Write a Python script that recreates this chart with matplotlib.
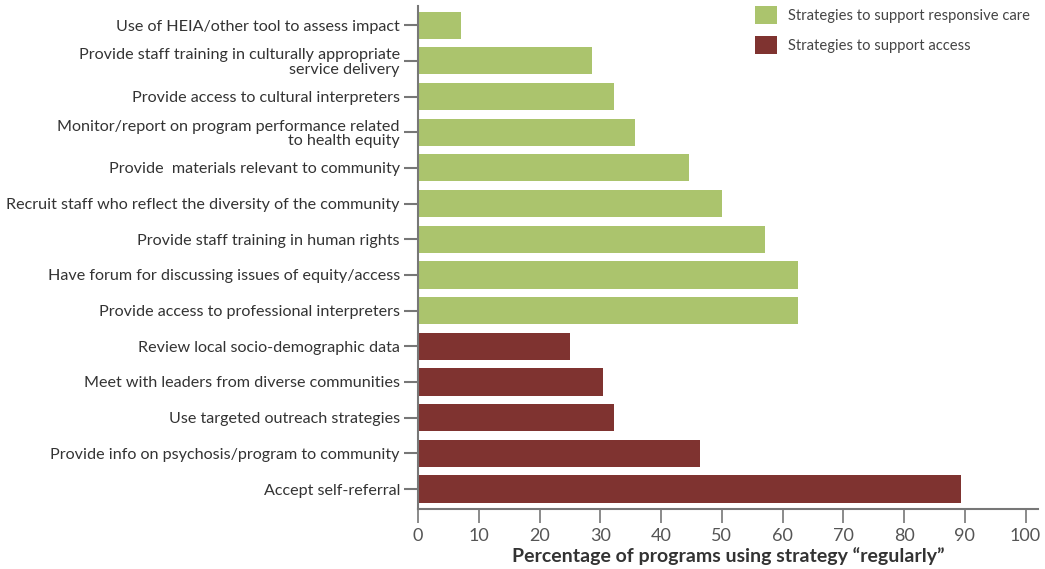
import matplotlib
matplotlib.use("Agg")
import matplotlib.pyplot as plt
from matplotlib.patches import Patch

plt.rcParams['font.family'] = ['Lato', 'DejaVu Sans']

# strategies, top to bottom
strategies = [
    "Use of HEIA/other tool to assess impact",
    "Provide staff training in culturally appropriate\nservice delivery",
    "Provide access to cultural interpreters",
    "Monitor/report on program performance related\nto health equity",
    "Provide  materials relevant to community",
    "Recruit staff who reflect the diversity of the community",
    "Provide staff training in human rights",
    "Have forum for discussing issues of equity/access",
    "Provide access to professional interpreters",
    "Review local socio-demographic data",
    "Meet with leaders from diverse communities",
    "Use targeted outreach strategies",
    "Provide info on psychosis/program to community",
    "Accept self-referral",
]
percent = [7.0, 28.7, 32.2, 35.8, 44.6, 50.0, 57.1, 62.6, 62.6,
           25.1, 30.5, 32.2, 46.4, 89.3]
group = ["care"] * 9 + ["access"] * 5

colors = {"care": "#abc46d", "access": "#7f3330"}
legend_labels = {"care": "Strategies to support responsive care",
                 "access": "Strategies to support access"}

fig = plt.figure(figsize=(10.45, 5.69), dpi=100)
ax = fig.add_axes([0.400, 0.1054, 0.593, 0.8836])

ypos = list(range(len(strategies)))
ax.barh(ypos, percent, height=0.76, color=[colors[g] for g in group])

ax.set_ylim(len(strategies) - 1 + 0.56, -0.53)
ax.set_xlim(0, 102)
ax.set_yticks(ypos)
ax.set_yticklabels(strategies, fontsize=11.6, color="#333333", linespacing=1.05)
ax.set_xticks(range(0, 101, 10))
ax.tick_params(axis='x', length=10, width=1.2, color="#777777", labelsize=13,
               labelcolor="#555555", pad=4)
ax.tick_params(axis='y', length=10, width=1.5, color="#777777", pad=3)

for s in ['top', 'right']:
    ax.spines[s].set_visible(False)
for s in ['left', 'bottom']:
    ax.spines[s].set_color("#777777")
    ax.spines[s].set_linewidth(1.5)

ax.set_xlabel("Percentage of programs using strategy \u201cregularly\u201d",
              fontsize=14, fontweight='bold', color="#333333", labelpad=2)

handles = [Patch(facecolor=colors[k], label=legend_labels[k]) for k in ["care", "access"]]
fig.legend(handles=handles, loc='upper left', bbox_to_anchor=(0.710, 1.012),
           frameon=False, fontsize=10.6, labelcolor="#444444",
           handlelength=1.45, handleheight=1.45, handletextpad=0.8,
           labelspacing=0.85)

fig.savefig("out.png", dpi=100)
